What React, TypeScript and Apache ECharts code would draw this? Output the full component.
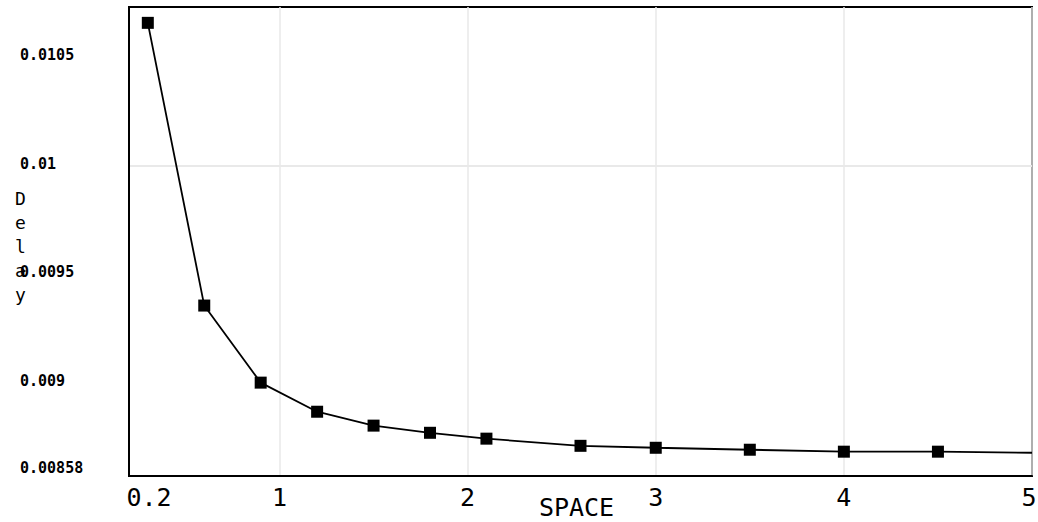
import React, { useEffect, useRef } from "react";
import * as echarts from "echarts";

const xValues = [0.3, 0.6, 0.9, 1.2, 1.5, 1.8, 2.1, 2.6, 3.0, 3.5, 4.0, 4.5, 5.0];
const delayValues = [
  0.010657, 0.009355, 0.009, 0.008866, 0.008802, 0.008769, 0.008742, 0.008709,
  0.0087, 0.008691, 0.008682, 0.008682, 0.008677,
];
const markerShown = [true, true, true, true, true, true, true, true, true, true, true, true, false];

const xTickValues = [0.2, 1, 2, 3, 4, 5];
const xTickLabels = ["0.2", "1", "2", "3", "4", "5"];
const xGridValues = [1, 2, 3, 4, 5];

const yMin = 0.00857;
const yMax = 0.01073;
const yTickValues = [0.00857, 0.009, 0.0095, 0.01, 0.0105];
const yTickLabels = ["0.00858", "0.009", "0.0095", "0.01", "0.0105"];
const yGridValues = [0.009, 0.0095, 0.01, 0.0105];

const xName = "SPACE";
const yName = "Delay";

export default function App() {
  const ref = useRef<HTMLDivElement>(null);

  useEffect(() => {
    if (!ref.current) return;
    const chart = echarts.init(ref.current, null, { renderer: "svg" });
    const mono = "DejaVu Sans Mono";

    const gridLineData = [
      ...xGridValues.map((v) => ({ xAxis: v })),
      ...yGridValues.map((v) => ({ yAxis: v })),
    ];

    chart.setOption({
      animation: false,
      backgroundColor: "#ffffff",
      grid: {
        left: 129,
        top: 7,
        right: 6,
        bottom: 46,
        outerBoundsMode: "none",
        containLabel: false,
        show: true,
        borderColor: "#000000",
        borderWidth: 2,
        backgroundColor: "transparent",
      },
      xAxis: {
        type: "value",
        min: 0.2,
        max: 5,
        axisLine: { show: true, lineStyle: { color: "#000", width: 2 } },
        axisTick: { show: false },
        splitLine: { show: false },
        axisLabel: {
          customValues: xTickValues,
          margin: 9,
          color: "#000",
          fontFamily: mono,
          fontSize: 25,
          formatter: (v: number) => {
            const i = xTickValues.findIndex((t) => Math.abs(t - v) < 1e-9);
            const txt = i >= 0 ? xTickLabels[i] : "";
            if (i === 0) return "{first|" + txt + "}";
            if (i === xTickValues.length - 1) return "{last|" + txt + "}";
            return txt;
          },
          rich: {
            first: {
              fontFamily: mono,
              fontSize: 25,
              color: "#000",
              padding: [0, 0, 0, 40],
            },
            last: {
              fontFamily: mono,
              fontSize: 25,
              color: "#000",
              padding: [0, 6, 0, 0],
            },
          },
        },
        name: xName,
        nameLocation: "middle",
        nameGap: 19,
        nameMoveOverlap: false,
        nameTextStyle: {
          color: "#000",
          fontFamily: mono,
          fontSize: 25,
          padding: [0, 8, 0, 0],
        },
      },
      yAxis: {
        type: "value",
        min: yMin,
        max: yMax,
        axisLine: { show: true, lineStyle: { color: "#000", width: 2 } },
        axisTick: { show: false },
        splitLine: { show: false },
        axisLabel: {
          customValues: yTickValues,
          align: "left",
          margin: 109,
          color: "#000",
          fontFamily: mono,
          fontWeight: "bold",
          fontSize: 15,
          formatter: (v: number) => {
            const i = yTickValues.findIndex((t) => Math.abs(t - v) < 1e-10);
            const txt = i >= 0 ? yTickLabels[i] : "";
            return i === 0 ? "{low|" + txt + "}" : "{n|" + txt + "}";
          },
          rich: {
            low: {
              fontFamily: mono,
              fontWeight: "bold",
              fontSize: 15,
              color: "#000",
              padding: [0, 0, 16, 0],
            },
            n: {
              fontFamily: mono,
              fontWeight: "bold",
              fontSize: 15,
              color: "#000",
              padding: [0, 0, 4, 0],
            },
          },
        },
      },
      graphic: [
        {
          type: "text",
          left: 15,
          top: 186,
          style: {
            text: yName.split("").join("\n"),
            fill: "#000",
            font: "18px 'DejaVu Sans Mono'",
            lineHeight: 24,
          },
        },
      ],
      series: [
        {
          type: "line",
          data: [],
          z: 1,
          silent: true,
          markLine: {
            z: 0,
            silent: true,
            symbol: ["none", "none"],
            label: { show: false },
            lineStyle: { color: "#e8e8e8", width: 1.5, type: "solid" },
            data: gridLineData,
          },
        },
        {
          type: "line",
          z: 3,
          data: xValues.map((x, i) => ({
            value: [x, delayValues[i]],
            symbol: markerShown[i] ? "rect" : "none",
          })),
          symbolSize: 12,
          itemStyle: { color: "#000" },
          lineStyle: { color: "#000", width: 1.8 },
        },
      ],
    });

    return () => chart.dispose();
  }, []);

  return (
    <div
      ref={ref}
      style={{ position: "fixed", left: 0, top: 0, width: 1038, height: 522 }}
    />
  );
}
